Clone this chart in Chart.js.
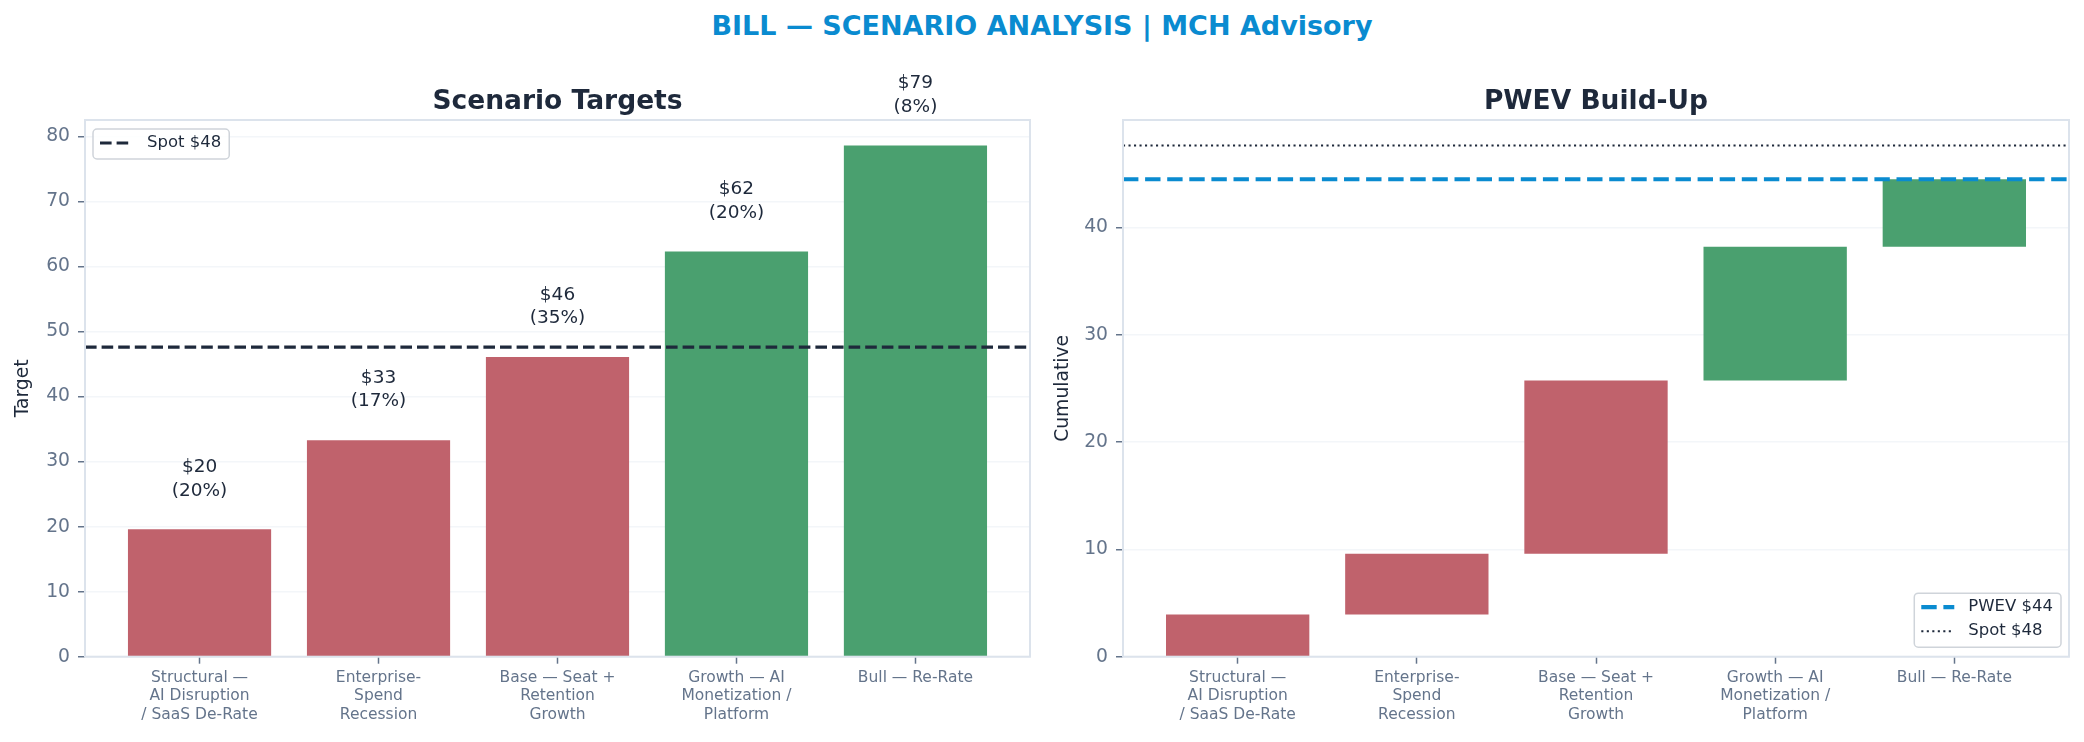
<!DOCTYPE html>
<html>
<head>
<meta charset="utf-8">
<title>BILL — Scenario Analysis</title>
<script src="https://cdn.jsdelivr.net/npm/chart.js@4.4.1/dist/chart.umd.min.js"></script>
<style>
    html, body { margin: 0; padding: 0; background: #ffffff; }
    body { position: relative; width: 2084px; height: 742px; overflow: hidden; font-family: 'DejaVu Sans', sans-serif; }
    .suptitle {
        position: absolute; left: 0; top: 9px; width: 2084px;
        text-align: center; font-weight: bold; font-size: 27px; line-height: 34px;
        color: #0a8bd0;
    }
    .panel { position: absolute; top: 0; width: 1042px; height: 742px; }
</style>
</head>
<body>
<div class="suptitle">BILL — SCENARIO ANALYSIS | MCH Advisory</div>
<div class="panel" style="left:0"><canvas id="targetsChart" width="1042" height="742"></canvas></div>
<div class="panel" style="left:1042px"><canvas id="buildUpChart" width="1042" height="742"></canvas></div>

<script>
// scenario data
const scenarioLabels = [
    ['Structural —', 'AI Disruption', '/ SaaS De-Rate'],
    ['Enterprise-', 'Spend', 'Recession'],
    ['Base — Seat +', 'Retention', 'Growth'],
    ['Growth — AI', 'Monetization /', 'Platform'],
    ['Bull — Re-Rate']
];
const targetValues = [19.6, 33.3, 46.1, 62.3, 78.6];
const scenarioProbs = [20, 17, 35, 20, 8];
const spotPrice = 47.6;

class ScenarioChartsController {
    constructor() {
        this.initTheme();
        this.renderTargetsChart();
        this.renderBuildUpChart();
    }

    initTheme() {
        Chart.defaults.font.family = "'DejaVu Sans', sans-serif";
        Chart.defaults.animation = false;
        this.colors = {
            ink: '#1e293b',
            tick: '#64748b',
            frame: '#dce3ec',
            grid: 'rgba(226, 232, 240, 0.4)',
            red: '#c0626c',
            green: '#4aa06f',
            blue: '#0a8bd0'
        };
        this.barColors = targetValues.map(v => v >= spotPrice ? this.colors.green : this.colors.red);
        // matplotlib style x padding: 5% of the bar span
        this.xMin = -0.4 - 0.05 * (targetValues.length - 0.2);
        this.xMax = targetValues.length - 0.6 + 0.05 * (targetValues.length - 0.2);
    }

    framePlugin(title) {
        const c = this.colors;
        return {
            id: 'frameTitle',
            afterDraw(chart) {
                const { ctx, chartArea: a } = chart;
                ctx.save();
                ctx.strokeStyle = c.frame;
                ctx.lineWidth = 2;
                ctx.strokeRect(a.left, a.top, a.right - a.left, a.bottom - a.top);
                ctx.fillStyle = c.ink;
                ctx.font = "bold 26.5px 'DejaVu Sans'";
                ctx.textAlign = 'center';
                ctx.textBaseline = 'alphabetic';
                ctx.fillText(title, (a.left + a.right) / 2, a.top - 11);
                ctx.restore();
            }
        };
    }

    legendPlugin(items, corner) {
        return {
            id: 'boxLegend',
            afterDraw(chart) {
                const { ctx, chartArea: a } = chart;
                ctx.save();
                ctx.font = "16.5px 'DejaVu Sans'";
                const textW = Math.max(...items.map(it => ctx.measureText(it.label).width));
                const w = 54 + textW + 8;
                const h = 14 + (items.length - 1) * 24 + 16;
                const x = corner === 'topleft' ? a.left + 8 : a.right - 8 - w;
                const y = corner === 'topleft' ? a.top + 9 : a.bottom - 9.5 - h;
                ctx.beginPath();
                ctx.roundRect(x, y, w, h, 4);
                ctx.fillStyle = 'rgba(255,255,255,0.85)';
                ctx.fill();
                ctx.strokeStyle = '#cfd4da';
                ctx.lineWidth = 1.5;
                ctx.stroke();
                items.forEach((it, i) => {
                    const cy = y + 14 + i * 24;
                    ctx.beginPath();
                    ctx.setLineDash(it.dash);
                    ctx.strokeStyle = it.color;
                    ctx.lineWidth = it.width;
                    ctx.moveTo(x + 7, cy);
                    ctx.lineTo(x + 40, cy);
                    ctx.stroke();
                    ctx.setLineDash([]);
                    ctx.fillStyle = '#1e293b';
                    ctx.textAlign = 'left';
                    ctx.textBaseline = 'middle';
                    ctx.fillText(it.label, x + 54, cy);
                });
                ctx.restore();
            }
        };
    }

    scales(yWidth, yMax, yTitle, titlePad) {
        const c = this.colors;
        return {
            x: {
                type: 'linear',
                min: this.xMin,
                max: this.xMax,
                offset: false,
                afterBuildTicks: s => { s.ticks = scenarioLabels.map((_, i) => ({ value: i })); },
                afterFit: s => { s.height = 742 - 656.7; },
                ticks: {
                    autoSkip: false,
                    maxRotation: 0,
                    padding: 5,
                    color: c.tick,
                    font: { size: 15.5, lineHeight: 1.19 },
                    callback: v => scenarioLabels[v]
                },
                grid: { display: true, offset: false, drawOnChartArea: false, drawTicks: true, tickLength: 7, tickColor: c.tick, tickWidth: 1.5 },
                border: { display: false }
            },
            y: {
                min: 0,
                max: yMax,
                z: 1,
                afterFit: s => { s.width = yWidth; },
                ticks: {
                    stepSize: 10, includeBounds: false, padding: 8, color: c.tick, font: { size: 18.75 },
                    callback: v => String(Math.round(v))
                },
                grid: { color: c.grid, lineWidth: 1.5, tickLength: 7, tickColor: c.tick, tickWidth: 1.5 },
                border: { display: false },
                title: { display: true, text: yTitle, color: c.ink, font: { size: 18.75 }, padding: { top: titlePad, bottom: 0 } }
            }
        };
    }

    renderTargetsChart() {
        const canvas = document.getElementById('targetsChart');
        if (!canvas) return;
        const c = this.colors;

        const valueLabels = {
            id: 'valueLabels',
            afterDraw(chart) {
                const { ctx } = chart;
                ctx.save();
                ctx.fillStyle = c.ink;
                ctx.font = "18.5px 'DejaVu Sans'";
                ctx.textAlign = 'center';
                ctx.textBaseline = 'middle';
                chart.getDatasetMeta(0).data.forEach((bar, i) => {
                    ctx.fillText('$' + Math.round(targetValues[i]), bar.x, bar.y - 62);
                    ctx.fillText('(' + scenarioProbs[i] + '%)', bar.x, bar.y - 38.5);
                });
                ctx.restore();
            }
        };

        new Chart(canvas.getContext('2d'), {
            type: 'bar',
            data: {
                datasets: [{
                    label: 'Target',
                    data: targetValues.map((v, i) => ({ x: i, y: v })),
                    backgroundColor: this.barColors,
                    borderWidth: 0,
                    categoryPercentage: 0.8,
                    barPercentage: 1.0,
                    order: 2
                }, {
                    type: 'line',
                    label: 'Spot $' + Math.round(spotPrice),
                    data: [{ x: this.xMin, y: spotPrice }, { x: this.xMax, y: spotPrice }],
                    borderColor: c.ink,
                    borderWidth: 3.1,
                    borderDash: [11.6, 5],
                    pointRadius: 0,
                    order: 1
                }]
            },
            options: {
                responsive: false,
                layout: { padding: { left: 0, right: 12, top: 120, bottom: 0 }, autoPadding: false },
                plugins: { legend: { display: false }, tooltip: { enabled: false } },
                scales: this.scales(85, Math.max(...targetValues) * 1.05, 'Target', 12.2)
            },
            plugins: [
                this.framePlugin('Scenario Targets'),
                valueLabels,
                this.legendPlugin([{ label: 'Spot $' + Math.round(spotPrice), color: c.ink, width: 3.1, dash: [11.6, 5] }], 'topleft')
            ]
        });
    }

    renderBuildUpChart() {
        const canvas = document.getElementById('buildUpChart');
        if (!canvas) return;
        const c = this.colors;

        // probability weighted contributions stacked as a waterfall
        let running = 0;
        const steps = targetValues.map((v, i) => {
            const start = running;
            running += v * scenarioProbs[i] / 100;
            return { x: i, y: [start, running] };
        });
        const pwev = running;

        new Chart(canvas.getContext('2d'), {
            type: 'bar',
            data: {
                datasets: [{
                    label: 'Contribution',
                    data: steps,
                    backgroundColor: this.barColors,
                    borderWidth: 0,
                    borderSkipped: false,
                    categoryPercentage: 0.8,
                    barPercentage: 1.0,
                    order: 3
                }, {
                    type: 'line',
                    label: 'PWEV $' + Math.round(pwev),
                    data: [{ x: this.xMin, y: pwev }, { x: this.xMax, y: pwev }],
                    borderColor: c.blue,
                    borderWidth: 4.2,
                    borderDash: [15.4, 6.7],
                    pointRadius: 0,
                    order: 1
                }, {
                    type: 'line',
                    label: 'Spot $' + Math.round(spotPrice),
                    data: [{ x: this.xMin, y: spotPrice }, { x: this.xMax, y: spotPrice }],
                    borderColor: c.ink,
                    borderWidth: 2.1,
                    borderDash: [2.1, 3.4],
                    pointRadius: 0,
                    order: 2
                }]
            },
            options: {
                responsive: false,
                layout: { padding: { left: 0, right: 15, top: 120, bottom: 0 }, autoPadding: false },
                plugins: { legend: { display: false }, tooltip: { enabled: false } },
                scales: this.scales(81, Math.max(spotPrice, pwev) * 1.05, 'Cumulative', 10.3)
            },
            plugins: [
                this.framePlugin('PWEV Build-Up'),
                this.legendPlugin([
                    { label: 'PWEV $' + Math.round(pwev), color: c.blue, width: 4.2, dash: [15.4, 6.7] },
                    { label: 'Spot $' + Math.round(spotPrice), color: c.ink, width: 2.1, dash: [2.1, 3.4] }
                ], 'bottomright')
            ]
        });
    }
}

document.addEventListener('DOMContentLoaded', () => {
    new ScenarioChartsController();
});
</script>
</body>
</html>
